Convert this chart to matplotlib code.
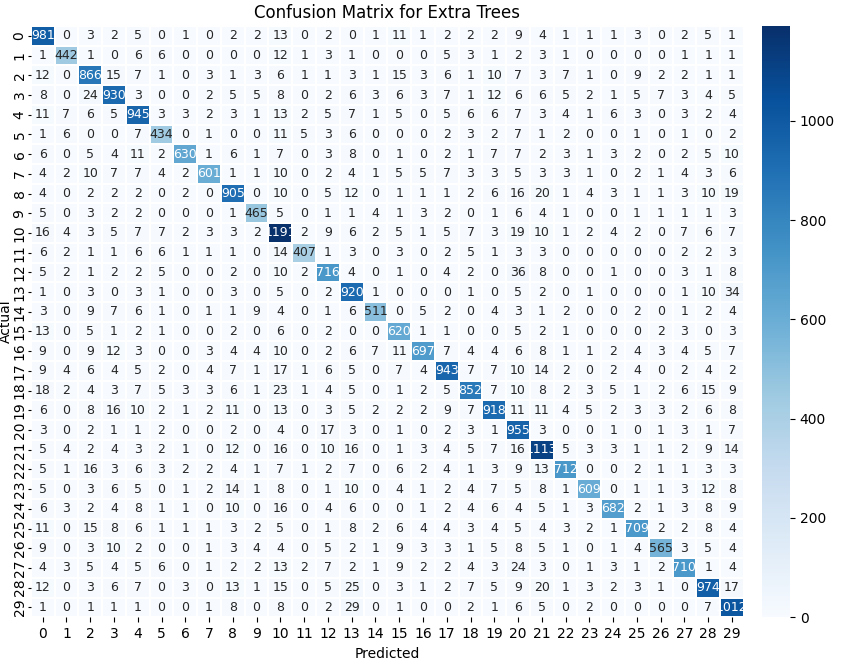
import numpy as np
import matplotlib
matplotlib.use("Agg")
import matplotlib.pyplot as plt
import seaborn as sns

labels = list(range(30))

# confusion matrix rows (actual class)
cm = np.array([
    [981, 0, 3, 2, 5, 0, 1, 0, 2, 2, 13, 0, 2, 0, 1, 11, 1, 2, 2, 2, 9, 4, 1, 1, 1, 3, 0, 2, 5, 1],
    [1, 442, 1, 0, 6, 6, 0, 0, 0, 0, 12, 1, 3, 1, 0, 0, 0, 5, 3, 1, 2, 3, 1, 0, 0, 0, 0, 1, 1, 1],
    [12, 0, 866, 15, 7, 1, 0, 3, 1, 3, 6, 1, 1, 3, 1, 15, 3, 6, 1, 10, 7, 3, 7, 1, 0, 9, 2, 2, 1, 1],
    [8, 0, 24, 930, 3, 0, 0, 2, 5, 5, 8, 0, 2, 6, 3, 6, 3, 7, 1, 12, 6, 6, 5, 2, 1, 5, 7, 3, 4, 5],
    [11, 7, 6, 5, 945, 3, 3, 2, 3, 1, 13, 2, 5, 7, 1, 5, 0, 5, 6, 6, 7, 3, 4, 1, 6, 3, 0, 3, 2, 4],
    [1, 6, 0, 0, 7, 434, 0, 1, 0, 0, 11, 5, 3, 6, 0, 0, 0, 2, 3, 2, 7, 1, 2, 0, 0, 1, 0, 1, 0, 2],
    [6, 0, 5, 4, 11, 2, 630, 1, 6, 1, 7, 0, 3, 8, 0, 1, 0, 2, 1, 7, 7, 2, 3, 1, 3, 2, 0, 2, 5, 10],
    [4, 2, 10, 7, 7, 4, 2, 601, 1, 1, 10, 0, 2, 4, 1, 5, 5, 7, 3, 3, 5, 3, 3, 1, 0, 2, 1, 4, 3, 6],
    [4, 0, 2, 2, 2, 0, 2, 0, 905, 0, 10, 0, 5, 12, 0, 1, 1, 1, 2, 6, 16, 20, 1, 4, 3, 1, 1, 3, 10, 19],
    [5, 0, 3, 2, 2, 0, 0, 0, 1, 465, 5, 0, 1, 1, 4, 1, 3, 2, 0, 1, 6, 4, 1, 0, 0, 1, 1, 1, 1, 3],
    [16, 4, 3, 5, 7, 7, 2, 3, 3, 2, 1191, 2, 9, 6, 2, 5, 1, 5, 7, 3, 19, 10, 1, 2, 4, 2, 0, 7, 6, 7],
    [6, 2, 1, 1, 6, 6, 1, 1, 1, 0, 14, 407, 1, 3, 0, 3, 0, 2, 5, 1, 3, 3, 0, 0, 0, 0, 0, 2, 2, 3],
    [5, 2, 1, 2, 2, 5, 0, 0, 2, 0, 10, 2, 716, 4, 0, 1, 0, 4, 2, 0, 36, 8, 0, 0, 1, 0, 0, 3, 1, 8],
    [1, 0, 3, 0, 3, 1, 0, 0, 3, 0, 5, 0, 2, 920, 1, 0, 0, 0, 1, 0, 5, 2, 0, 1, 0, 0, 0, 1, 10, 34],
    [3, 0, 9, 7, 6, 1, 0, 1, 1, 9, 4, 0, 1, 6, 511, 0, 5, 2, 0, 4, 3, 1, 2, 0, 0, 2, 0, 1, 2, 4],
    [13, 0, 5, 1, 2, 1, 0, 0, 2, 0, 6, 0, 2, 0, 0, 620, 1, 1, 0, 0, 5, 2, 1, 0, 0, 0, 2, 3, 0, 3],
    [9, 0, 9, 12, 3, 0, 0, 3, 4, 4, 10, 0, 2, 6, 7, 11, 697, 7, 4, 4, 6, 8, 1, 1, 2, 4, 3, 4, 5, 7],
    [9, 4, 6, 4, 5, 2, 0, 4, 7, 1, 17, 1, 6, 5, 0, 7, 4, 943, 7, 7, 10, 14, 2, 0, 2, 4, 0, 2, 4, 2],
    [18, 2, 4, 3, 7, 5, 3, 3, 6, 1, 23, 1, 4, 5, 0, 1, 2, 5, 852, 7, 10, 8, 2, 3, 5, 1, 2, 6, 15, 9],
    [6, 0, 8, 16, 10, 2, 1, 2, 11, 0, 13, 0, 3, 5, 2, 2, 2, 9, 7, 918, 11, 11, 4, 5, 2, 3, 3, 2, 6, 8],
    [3, 0, 2, 1, 1, 2, 0, 0, 2, 0, 4, 0, 17, 3, 0, 1, 0, 2, 3, 1, 955, 3, 0, 0, 1, 0, 1, 3, 1, 7],
    [5, 4, 2, 4, 3, 2, 1, 0, 12, 0, 16, 0, 10, 16, 0, 1, 3, 4, 5, 7, 16, 1113, 5, 3, 3, 1, 1, 2, 9, 14],
    [5, 1, 16, 3, 6, 3, 2, 2, 4, 1, 7, 1, 2, 7, 0, 6, 2, 4, 1, 3, 9, 13, 712, 0, 0, 2, 1, 1, 3, 3],
    [5, 0, 3, 6, 5, 0, 1, 2, 14, 1, 8, 0, 1, 10, 0, 4, 1, 2, 4, 7, 5, 8, 1, 609, 0, 1, 1, 3, 12, 8],
    [6, 3, 2, 4, 8, 1, 1, 0, 10, 0, 16, 0, 4, 6, 0, 0, 1, 2, 4, 6, 4, 5, 1, 3, 682, 2, 1, 3, 8, 9],
    [11, 0, 15, 8, 6, 1, 1, 1, 3, 2, 5, 0, 1, 8, 2, 6, 4, 4, 3, 4, 5, 4, 3, 2, 1, 709, 2, 2, 8, 4],
    [9, 0, 3, 10, 2, 0, 0, 1, 3, 4, 4, 0, 5, 2, 1, 9, 3, 3, 1, 5, 8, 5, 1, 0, 1, 4, 565, 3, 5, 4],
    [4, 3, 5, 4, 5, 6, 0, 1, 2, 2, 13, 2, 7, 2, 1, 9, 2, 2, 4, 3, 24, 3, 0, 1, 3, 1, 2, 710, 1, 4],
    [12, 0, 3, 6, 7, 0, 3, 0, 13, 1, 15, 0, 5, 25, 0, 3, 1, 2, 7, 5, 9, 20, 1, 3, 2, 3, 1, 0, 974, 17],
    [1, 0, 1, 1, 1, 0, 0, 1, 8, 0, 8, 0, 2, 29, 0, 1, 0, 0, 2, 1, 6, 5, 0, 2, 0, 0, 0, 0, 7, 1012],
])

fig = plt.figure(figsize=(8.55, 6.68), dpi=100)
ax = fig.add_axes([0.036, 0.076, 0.834, 0.885])
cax = fig.add_axes([0.891, 0.076, 0.033, 0.885])

sns.heatmap(cm, annot=True, fmt="d", cmap="Blues", ax=ax, cbar_ax=cax,
            xticklabels=labels, yticklabels=labels,
            linewidths=0.3, linecolor="white",
            annot_kws={"size": 9})

ax.set_title("Confusion Matrix for Extra Trees", fontsize=12)
ax.set_xlabel("Predicted", fontsize=10, labelpad=4)
ax.set_ylabel("Actual", fontsize=10, labelpad=0)
ax.tick_params(axis="x", labelsize=10, rotation=0)
ax.tick_params(axis="y", labelsize=10, rotation=90, pad=0.5, length=2.5)
cax.tick_params(labelsize=10)

fig.savefig("out.png", dpi=100)
